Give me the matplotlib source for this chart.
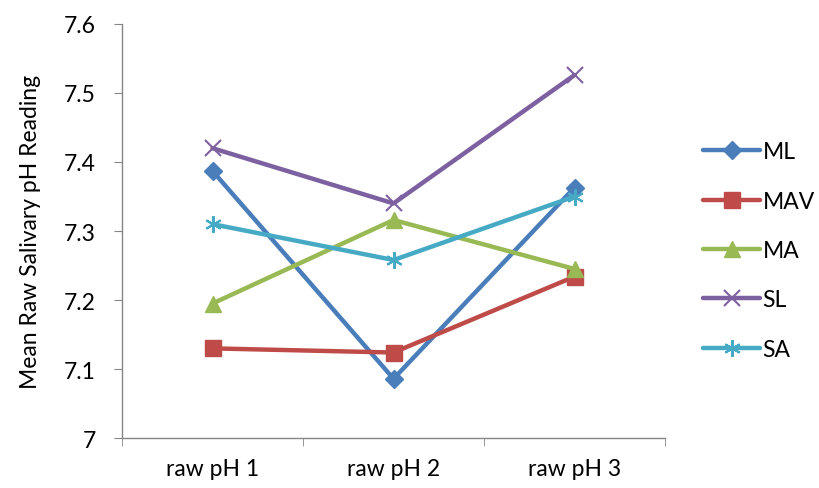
import matplotlib
matplotlib.use("Agg")
import matplotlib.pyplot as plt
from matplotlib.ticker import FixedLocator

plt.rcParams['font.family'] = ['Lato', 'DejaVu Sans']

categories = ["raw pH 1", "raw pH 2", "raw pH 3"]
series_names = ["ML", "MAV", "MA", "SL", "SA"]
ML = [7.387, 7.086, 7.363]
MAV = [7.130, 7.124, 7.234]
MA = [7.195, 7.316, 7.245]
SL = [7.420, 7.340, 7.526]
SA = [7.310, 7.258, 7.350]
values = [ML, MAV, MA, SL, SA]
yticks = [7.0, 7.1, 7.2, 7.3, 7.4, 7.5, 7.6]
ytick_labels = ["7", "7.1", "7.2", "7.3", "7.4", "7.5", "7.6"]

colors = ["#4A7EBB", "#BE4B48", "#98B954", "#7D60A0", "#46AAC5"]
markers = ["D", "s", "^", "x", (6, 2, 0)]
msizes = [9, 12, 12, 11, 12]

FS = 16.5

fig = plt.figure(figsize=(8.19, 4.89), dpi=100)
ax = fig.add_axes([0.149, 0.102, 0.663, 0.847])

x = list(range(len(categories)))
for name, vals, c, m, ms in zip(series_names, values, colors, markers, msizes):
    ax.plot(x, vals, color=c, lw=3.2, marker=m, markersize=ms,
            markeredgewidth=1.5 if m in ("x",) or isinstance(m, tuple) else 1,
            markeredgecolor=c, markerfacecolor=c, label=name, solid_capstyle='round')

ax.set_xlim(-0.5, 2.5)
ax.set_ylim(7.0, 7.6)
ax.set_yticks(yticks)
ax.set_yticklabels(ytick_labels)
ax.set_xticks(x)
ax.set_xticklabels(categories)
ax.xaxis.set_minor_locator(FixedLocator([-0.5, 0.5, 1.5, 2.5]))
ax.tick_params(axis='x', which='major', length=0, labelsize=FS, pad=14)
ax.tick_params(axis='x', which='minor', length=6, color='#868686', direction='out')
ax.tick_params(axis='y', which='major', length=6, color='#868686', labelsize=FS, pad=13)

for s in ['top', 'right']:
    ax.spines[s].set_visible(False)
for s in ['left', 'bottom']:
    ax.spines[s].set_color('#868686')
    ax.spines[s].set_linewidth(1)

ax.set_ylabel("Mean Raw Salivary pH Reading", fontsize=FS, labelpad=16)

leg = ax.legend(loc='center left', bbox_to_anchor=(1.07, 0.453), frameon=False,
                fontsize=FS, handlelength=2.5, handletextpad=0.1, labelspacing=1.24,
                borderpad=0, borderaxespad=0)

fig.savefig("out.png", dpi=100)
